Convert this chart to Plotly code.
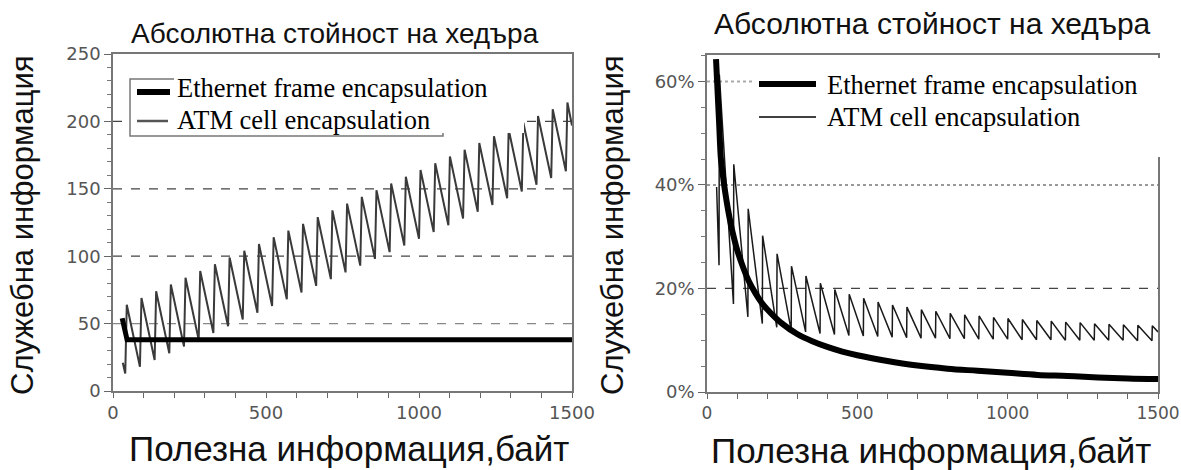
import plotly.graph_objects as go

# ---------------- data ----------------
# Left panel: absolute overhead, bytes
eth_abs_x = [30, 46, 1500]
eth_abs_y = [54, 38, 38]

atm_abs_x = [32, 40, 45, 88, 93, 136, 141, 184, 189, 232, 237, 280, 285, 328, 333,
             376, 381, 424, 429, 472, 477, 520, 525, 568, 573, 616, 621, 664, 669,
             712, 717, 760, 765, 808, 813, 856, 861, 904, 909, 952, 957, 1000, 1005,
             1048, 1053, 1096, 1101, 1144, 1149, 1192, 1197, 1240, 1245, 1288, 1293,
             1336, 1341, 1384, 1389, 1432, 1437, 1480, 1485, 1500]
atm_abs_y = [21, 13, 64, 18, 69, 23, 74, 28, 79, 33, 84, 38, 89, 43, 94,
             48, 99, 53, 104, 58, 109, 63, 114, 68, 119, 73, 124, 78, 129,
             83, 134, 88, 139, 93, 144, 98, 149, 103, 154, 108, 159, 113, 164,
             118, 169, 123, 174, 128, 179, 133, 184, 138, 189, 143, 194,
             148, 199, 153, 204, 158, 209, 163, 214, 197]

# Right panel: relative overhead, %
eth_rel_x = [30, 35, 40, 46, 50, 60, 70, 80, 90, 100, 120, 140, 160, 180, 200, 250,
             300, 350, 400, 450, 500, 600, 700, 800, 900, 1000, 1100, 1200, 1300,
             1400, 1500]
eth_rel_y = [64.3, 58.3, 52.4, 45.2, 43.2, 38.8, 35.2, 32.2, 29.7, 27.5, 24.1, 21.3,
             19.2, 17.4, 16.0, 13.2, 11.2, 9.8, 8.7, 7.8, 7.1, 6.0, 5.1, 4.5, 4.1,
             3.7, 3.3, 3.1, 2.8, 2.6, 2.5]

atm_rel_x = [32, 40, 41, 88, 89, 136, 137, 184, 185, 232, 233, 280, 281, 328, 329,
             376, 377, 424, 425, 472, 473, 520, 521, 568, 569, 616, 617, 664, 665,
             712, 713, 760, 761, 808, 809, 856, 857, 904, 905, 952, 953, 1000, 1001,
             1048, 1049, 1096, 1097, 1144, 1145, 1192, 1193, 1240, 1241, 1288, 1289,
             1336, 1337, 1384, 1385, 1432, 1433, 1480, 1481, 1500]
atm_rel_y = [39.6, 24.5, 61.3, 17.0, 44.0, 14.5, 35.4, 13.2, 30.2, 12.5, 26.7, 11.9,
             24.3, 11.6, 22.4, 11.3, 21.0, 11.1, 19.8, 10.9, 18.9, 10.8, 18.1, 10.7,
             17.4, 10.6, 16.8, 10.5, 16.4, 10.4, 15.9, 10.4, 15.6, 10.3, 15.2, 10.3,
             14.9, 10.2, 14.7, 10.2, 14.4, 10.2, 14.2, 10.1, 14.0, 10.1, 13.8, 10.1,
             13.7, 10.0, 13.5, 10.0, 13.4, 10.0, 13.2, 10.0, 13.1, 10.0, 13.0, 9.9,
             12.9, 9.9, 12.8, 11.6]

left_yticks = [0, 50, 100, 150, 200, 250]
right_yticks = [0, 20, 40, 60]
right_yticklabels = ["0%", "20%", "40%", "60%"]
xticks = [0, 500, 1000, 1500]

title_text = "Абсолютна стойност на хедъра"
ytitle_text = "Служебна информация"
xtitle_text = "Полезна информация,байт"
leg_eth = "Ethernet frame encapsulation"
leg_atm = "ATM cell encapsulation"

# ---------------- figure ----------------
W, H = 1181, 470
def px(x):
    return x / W
def py(y):
    return 1 - y / H

fig = go.Figure()
fig.add_trace(go.Scatter(x=atm_abs_x, y=atm_abs_y, mode="lines",
                         line=dict(color="#3a3a3a", width=2), xaxis="x", yaxis="y",
                         showlegend=False))
fig.add_trace(go.Scatter(x=eth_abs_x, y=eth_abs_y, mode="lines",
                         line=dict(color="black", width=5), xaxis="x", yaxis="y",
                         showlegend=False))
fig.add_trace(go.Scatter(x=atm_rel_x, y=atm_rel_y, mode="lines",
                         line=dict(color="#1a1a1a", width=1.5), xaxis="x2", yaxis="y2",
                         showlegend=False))
fig.add_trace(go.Scatter(x=eth_rel_x, y=eth_rel_y, mode="lines", line_shape="spline",
                         line=dict(color="black", width=6), xaxis="x2", yaxis="y2",
                         showlegend=False))

tickfont = dict(family="DejaVu Sans", size=18, color="#555555")
tickfont_r = dict(family="DejaVu Sans", size=17, color="#555555")
def xaxis_cfg(font):
    return dict(range=[0, 1500], tickvals=xticks, ticks="outside", ticklen=5,
                tickcolor="#666", linecolor="#777", linewidth=1.5, mirror=True,
                showgrid=False, zeroline=False, tickfont=font, automargin=False,
                ticklabeloverflow="allow",
                minor=dict(dtick=100, ticks="outside", ticklen=5, tickcolor="#666"))
fig.update_layout(
    width=W, height=H, margin=dict(l=0, r=0, t=0, b=0, autoexpand=False),
    paper_bgcolor="white", plot_bgcolor="white", showlegend=False,
    xaxis=dict(domain=[px(113), px(572)], anchor="y", **xaxis_cfg(tickfont)),
    yaxis=dict(domain=[py(391), py(54)], anchor="x", range=[0, 250],
               tickvals=left_yticks, ticks="outside", ticklen=7, tickcolor="#666",
               linecolor="#777", linewidth=1.5, mirror=True, showgrid=False,
               zeroline=False, tickfont=tickfont, automargin=False,
               ticklabeloverflow="allow",
               minor=dict(dtick=10, ticks="outside", ticklen=4, tickcolor="#777")),
    xaxis2=dict(domain=[px(707), px(1158)], anchor="y2", **xaxis_cfg(tickfont_r)),
    yaxis2=dict(domain=[py(392), py(55)], anchor="x2", range=[0, 65.1],
                tickvals=right_yticks, ticktext=right_yticklabels, ticks="outside",
                ticklen=7, tickcolor="#666", linecolor="#777", linewidth=1.5,
                mirror=True, showgrid=False, zeroline=False, tickfont=tickfont,
                automargin=False, ticklabeloverflow="allow",
                minor=dict(dtick=5, ticks="outside", ticklen=4, tickcolor="#777")),
)

shapes = []
# gridlines left
for v, c, d in [(50, "#888", "dash"), (100, "#444", "dash"), (150, "#444", "dash"),
                (200, "#444", "dash")]:
    shapes.append(dict(type="line", xref="x domain", yref="y", x0=0, x1=1, y0=v, y1=v,
                       line=dict(color=c, width=1.2, dash=d), layer="below"))
# gridlines right
for v, c, d, w in [(20, "#444", "dash", 1.2), (40, "#999", "dot", 2), (60, "#aaa", "dot", 2)]:
    shapes.append(dict(type="line", xref="x2 domain", yref="y2", x0=0, x1=1, y0=v, y1=v,
                       line=dict(color=c, width=w, dash=d), layer="below"))
# left legend box + white patch
shapes.append(dict(type="rect", xref="paper", yref="paper", x0=px(130), x1=px(443),
                   y0=py(136), y1=py(79), line=dict(color="#777", width=1.5),
                   fillcolor="white", layer="above"))
shapes.append(dict(type="rect", xref="paper", yref="paper", x0=px(174), x1=px(524),
                   y0=py(133), y1=py(77), line=dict(width=0), fillcolor="white",
                   layer="above"))
shapes.append(dict(type="line", xref="paper", yref="paper", x0=px(137), x1=px(170),
                   y0=py(92), y1=py(92), line=dict(color="black", width=6), layer="above"))
shapes.append(dict(type="line", xref="paper", yref="paper", x0=px(137), x1=px(168),
                   y0=py(121), y1=py(121), line=dict(color="#555", width=2.5), layer="above"))
# right legend white patch
shapes.append(dict(type="rect", xref="paper", yref="paper", x0=px(755), x1=px(1175),
                   y0=py(157), y1=py(58), line=dict(width=0), fillcolor="white",
                   layer="above"))
shapes.append(dict(type="line", xref="paper", yref="paper", x0=px(759), x1=px(816),
                   y0=py(84), y1=py(84), line=dict(color="black", width=6), layer="above"))
shapes.append(dict(type="line", xref="paper", yref="paper", x0=px(759), x1=px(816),
                   y0=py(117), y1=py(117), line=dict(color="black", width=1.5), layer="above"))
fig.update_layout(shapes=shapes)

ann = []
sans = "Liberation Sans"
serif = "Liberation Serif"
def A(text, x, y, size, family, xanchor="center", angle=0, color="#111"):
    ann.append(dict(text=text, x=px(x), y=py(y), xref="paper", yref="paper",
                    xanchor=xanchor, yanchor="middle", showarrow=False, textangle=angle,
                    font=dict(family=family, size=size, color=color)))

A(title_text, 335, 33, 28, sans)
A(title_text, 932, 24, 30, sans)
A(ytitle_text, 22, 225, 31, sans, angle=-90)
A(ytitle_text, 612, 225, 31, sans, angle=-90)
A(xtitle_text, 349, 448, 35, sans)
A(xtitle_text, 931, 450, 35, sans)
A(leg_eth, 175, 88, 26.5, serif, xanchor="left", color="black")
A(leg_atm, 175, 120, 26.5, serif, xanchor="left", color="black")
A(leg_eth, 825, 85, 26.5, serif, xanchor="left", color="black")
A(leg_atm, 825, 117, 26.5, serif, xanchor="left", color="black")
fig.update_layout(annotations=ann)

fig.write_html("out.html", config={"displayModeBar": False})

# remove default page margins so the figure sits at the window origin
with open("out.html", "r", encoding="utf-8") as f:
    html = f.read()
html = html.replace("<head>", "<head><style>html,body{margin:0;padding:0;overflow:hidden;}</style>", 1)
with open("out.html", "w", encoding="utf-8") as f:
    f.write(html)
